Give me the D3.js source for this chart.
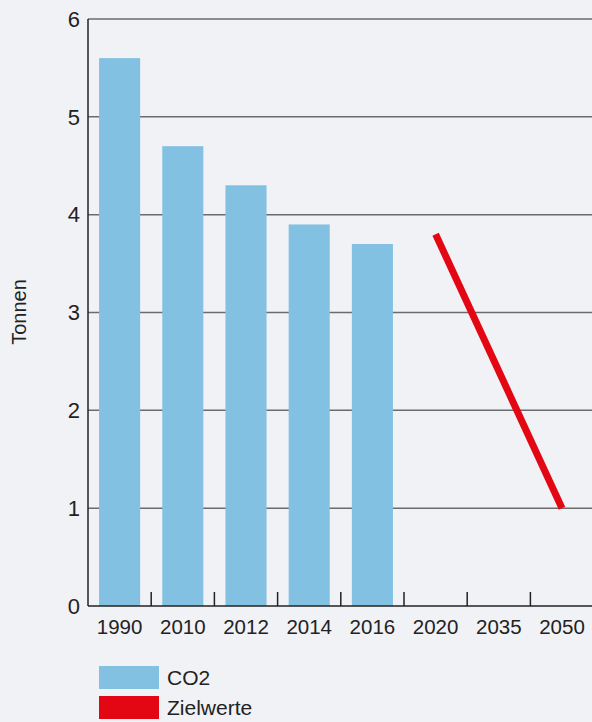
<!DOCTYPE html>
<html>
<head>
<meta charset="utf-8">
<script src="https://cdn.jsdelivr.net/npm/d3@7"></script>
<style>
  body { margin: 0; background: #f1f2f6; }
  svg { display: block; font-family: "Liberation Sans", Arial, sans-serif; }
</style>
</head>
<body>
<svg id="chart"></svg>
<script>
var categories = ["1990", "2010", "2012", "2014", "2016", "2020", "2035", "2050"];
var co2Years = ["1990", "2010", "2012", "2014", "2016"];
var co2Values = [5.6, 4.7, 4.3, 3.9, 3.7];
var targetYears = ["2020", "2050"];
var targetValues = [3.8, 1.0];
var yTicks = [0, 1, 2, 3, 4, 5, 6];

var width = 592, height = 722;
var margin = {left: 88, top: 19, bottom: 116};

var svg = d3.select('#chart')
    .attr('width', width)
    .attr('height', height);

svg.append('rect')
    .attr('width', width)
    .attr('height', height)
    .attr('fill', '#f1f2f6');

var x = d3.scaleBand()
    .domain(categories)
    .range([margin.left, margin.left + 8 * 63.2])
    .paddingInner(0.35)
    .paddingOuter(0.175);

var xb = d3.scaleBand()
    .domain(categories)
    .range([margin.left, margin.left + 8 * 63.2]);

var y = d3.scaleLinear()
    .domain([0, 6])
    .range([height - margin.bottom, margin.top]);

// gridlines
svg.append('g')
    .selectAll('line')
    .data(yTicks.filter(function (d) { return d > 0; }))
    .enter()
    .append('line')
    .attr('x1', margin.left)
    .attr('x2', width)
    .attr('y1', function (d) { return y(d); })
    .attr('y2', function (d) { return y(d); })
    .attr('stroke', '#6b6b6e')
    .attr('stroke-width', 1.5);

// bars
svg.append('g')
    .selectAll('rect')
    .data(co2Values)
    .enter()
    .append('rect')
    .attr('x', function (d, i) { return x(co2Years[i]); })
    .attr('width', x.bandwidth())
    .attr('y', function (d) { return y(d); })
    .attr('height', function (d) { return y(0) - y(d); })
    .attr('fill', '#82c1e2');

// target line
var line = d3.line()
    .x(function (d, i) { return xb(targetYears[i]) + xb.bandwidth() / 2; })
    .y(function (d) { return y(d); });

svg.append('path')
    .datum(targetValues)
    .attr('d', line)
    .attr('fill', 'none')
    .attr('stroke', '#e30613')
    .attr('stroke-width', 7);

// x axis
svg.append('line')
    .attr('x1', margin.left)
    .attr('x2', width)
    .attr('y1', y(0))
    .attr('y2', y(0))
    .attr('stroke', '#222')
    .attr('stroke-width', 1.5);

svg.append('g')
    .selectAll('line')
    .data(categories.slice(1))
    .enter()
    .append('line')
    .attr('x1', function (d) { return xb(d); })
    .attr('x2', function (d) { return xb(d); })
    .attr('y1', y(0))
    .attr('y2', y(0) - 14)
    .attr('stroke', '#222')
    .attr('stroke-width', 1.5);

svg.append('g')
    .selectAll('text')
    .data(categories)
    .enter()
    .append('text')
    .attr('x', function (d) { return xb(d) + xb.bandwidth() / 2; })
    .attr('y', y(0) + 28)
    .attr('text-anchor', 'middle')
    .attr('font-size', 20.5)
    .attr('fill', '#222')
    .text(function (d) { return d; });

// y axis
svg.append('line')
    .attr('x1', margin.left)
    .attr('x2', margin.left)
    .attr('y1', y(6))
    .attr('y2', y(0))
    .attr('stroke', '#222')
    .attr('stroke-width', 1.5);

svg.append('g')
    .selectAll('text')
    .data(yTicks)
    .enter()
    .append('text')
    .attr('x', 80)
    .attr('y', function (d) { return y(d); })
    .attr('dy', '0.35em')
    .attr('text-anchor', 'end')
    .attr('font-size', 22)
    .attr('fill', '#222')
    .text(function (d) { return d; });

svg.append('text')
    .attr('transform', 'translate(26,312) rotate(-90)')
    .attr('text-anchor', 'middle')
    .attr('font-size', 20)
    .attr('fill', '#222')
    .text('Tonnen');

// legend
var legend = [{label: 'CO2', color: '#82c1e2'}, {label: 'Zielwerte', color: '#e30613'}];
var lg = svg.append('g')
    .selectAll('g')
    .data(legend)
    .enter()
    .append('g')
    .attr('transform', function (d, i) { return 'translate(99,' + (666 + i * 30) + ')'; });

lg.append('rect')
    .attr('width', 60)
    .attr('height', 23)
    .attr('fill', function (d) { return d.color; });

lg.append('text')
    .attr('x', 68)
    .attr('y', 19)
    .attr('font-size', 21)
    .attr('fill', '#222')
    .text(function (d) { return d.label; });
</script>
</body>
</html>
